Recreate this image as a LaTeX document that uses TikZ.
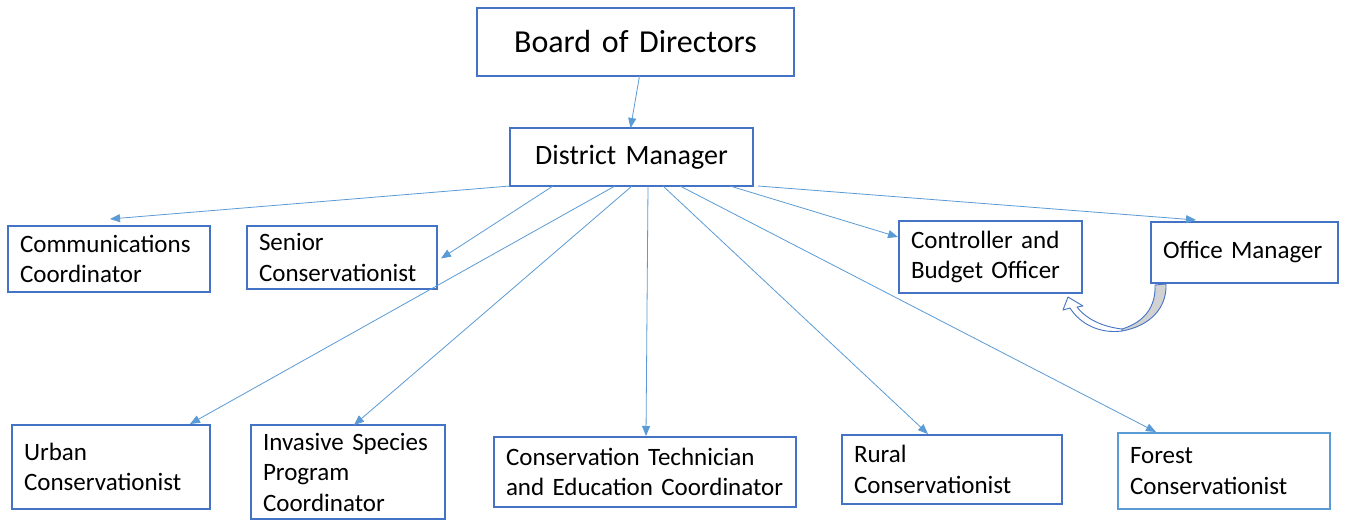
\documentclass[tikz,border=0pt]{standalone}
\usepackage{fontspec}
\setmainfont{Carlito}
\usetikzlibrary{arrows.meta,calc}
\definecolor{boxblue}{HTML}{4472C4}
\definecolor{lineblue}{HTML}{5B9BD5}
\tikzset{
  box/.style={draw=boxblue, line width=1.1pt, rectangle, anchor=north west, inner xsep=12pt, inner ysep=0pt, outer sep=0pt, align=left, font=\fontsize{25}{30.5}\selectfont},
  link/.style={draw=lineblue, line width=0.8pt, -{Triangle[length=10pt,width=8pt]}}
}
\begin{document}
\begin{tikzpicture}[x=1pt,y=-1pt]
\useasboundingbox[fill=white] (0,0) rectangle (1347,521);
\node[box,align=center,text width=293pt,minimum height=68pt,font=\fontsize{32}{38}\selectfont] (board) at (477,8) {Board of Directors};
\node[box,align=center,text width=219pt,minimum height=58pt,font=\fontsize{28}{34}\selectfont] (dm) at (510,128) {District Manager};
\node[box,text width=178pt,minimum height=66pt] (comm) at (8,226) {Communications\\Coordinator};
\node[box,text width=166pt,minimum height=63pt] (senior) at (247,226) {Senior\\Conservationist};
\node[box,text width=159pt,minimum height=72pt] (ctrl) at (899,221) {Controller and\\Budget Officer};
\node[box,text width=163pt,minimum height=61pt] (office) at (1151,222) {Office Manager};
\node[box,text width=174pt,minimum height=84pt] (urban) at (12,425) {Urban\\Conservationist};
\node[box,text width=170pt,minimum height=94pt] (invasive) at (251,425) {Invasive Species\\Program\\Coordinator};
\node[box,text width=278pt,minimum height=70pt] (tech) at (494,437) {Conservation Technician\\and Education Coordinator};
\node[box,text width=196pt,minimum height=69pt] (rural) at (842,435) {Rural\\Conservationist};
\node[box,draw=lineblue,text width=188pt,minimum height=76pt] (forest) at (1118,433) {Forest\\Conservationist};

\draw[link] ([xshift=4pt]board.south) -- ([xshift=-1pt]dm.north);
\draw[link] (dm.south west) -- ([xshift=102pt,yshift=7pt]comm.north west);
\draw[link] ([xshift=43pt]dm.south west) -- ([xshift=4pt,yshift=-1pt]senior.east);
\draw[link] ([xshift=105pt]dm.south west) -- ([xshift=178pt,yshift=1pt]urban.north west);
\draw[link] ([xshift=122pt]dm.south west) -- ([xshift=103pt]invasive.north west);
\draw[link] ([xshift=138pt]dm.south west) -- ([xshift=152pt,yshift=1pt]tech.north west);
\draw[link] ([xshift=153pt]dm.south west) -- ([xshift=86pt,yshift=1pt]rural.north west);
\draw[link] ([xshift=170pt]dm.south west) -- ([xshift=38pt,yshift=1pt]forest.north west);
\draw[link] ([xshift=220pt]dm.south west) -- ([xshift=-1pt,yshift=-16pt]ctrl.north west);
\draw[link] ([xshift=248pt]dm.south west) -- ([xshift=45pt,yshift=2pt]office.north west);

% curved block arrow from Office Manager to Controller
\draw[boxblue, line width=0.9pt, fill=gray!35, line join=round]
  (1155,285) .. controls (1156,306) and (1145,322) .. (1122,329)
  -- (1122,331) .. controls (1150,326) and (1167,308) .. (1166,284) -- cycle;
\draw[boxblue, line width=0.9pt, fill=white, line join=round]
  (1122,331) .. controls (1100,334) and (1080,324) .. (1070,308)
  -- (1063,310) -- (1068,297) -- (1083,306) -- (1077,307)
  .. controls (1087,320) and (1104,327) .. (1122,329) -- cycle;
\end{tikzpicture}
\end{document}
